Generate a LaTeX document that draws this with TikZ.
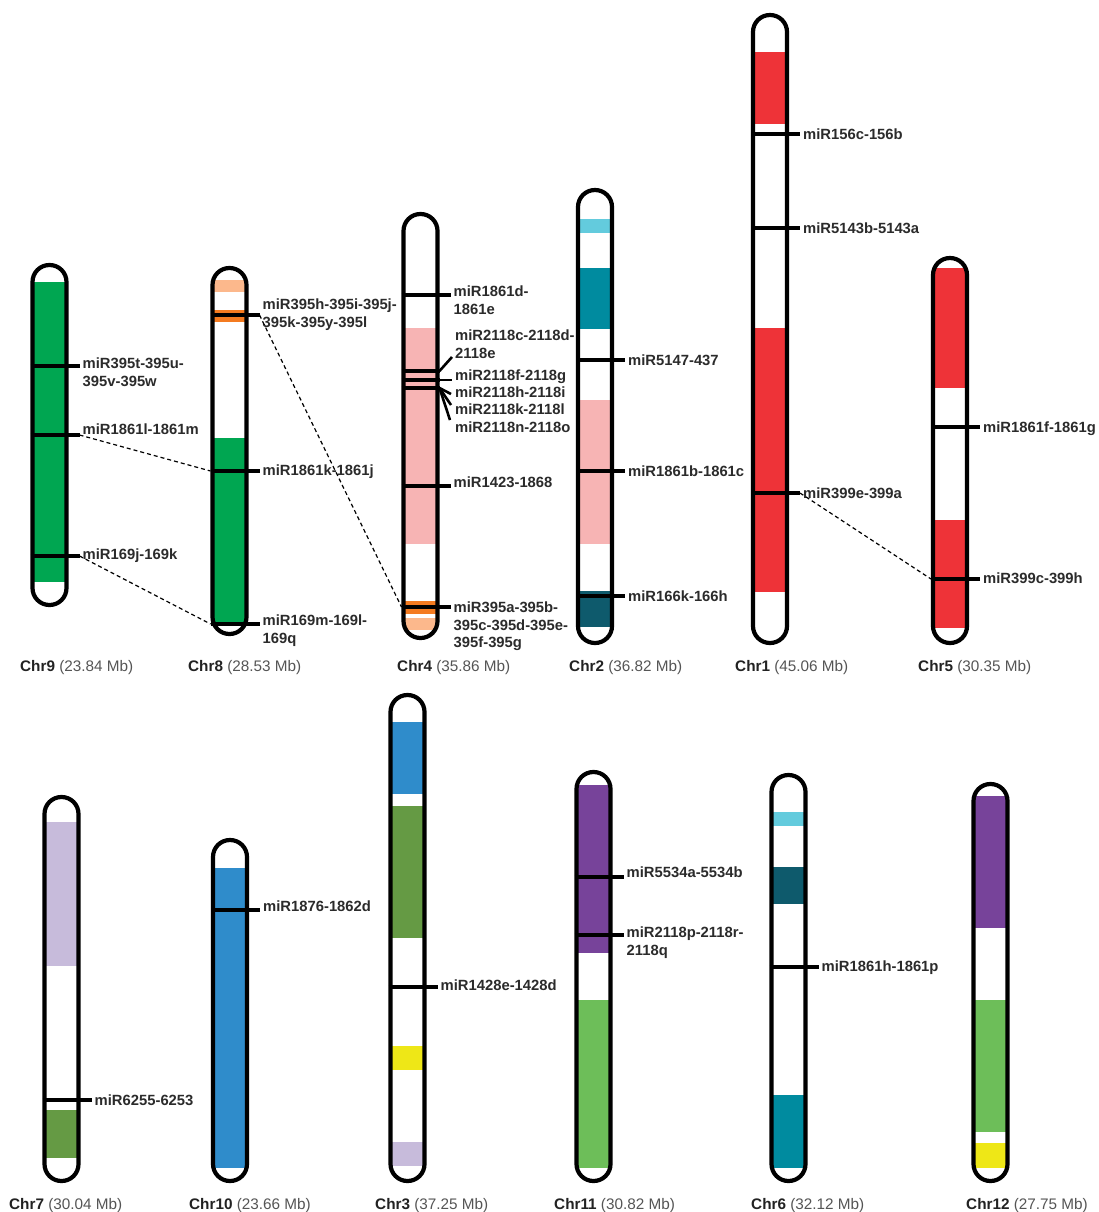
\documentclass[tikz,border=0pt]{standalone}
\usepackage{fontspec}
\setmainfont{Liberation Sans}
\definecolor{green9}{HTML}{00A651}
\definecolor{salmon}{HTML}{FCB88C}
\definecolor{orng}{HTML}{F47B20}
\definecolor{pinkb}{HTML}{F7B4B4}
\definecolor{lcyan}{HTML}{63CBDD}
\definecolor{teal}{HTML}{008B9F}
\definecolor{dteal}{HTML}{0E5A6C}
\definecolor{redb}{HTML}{EE3338}
\definecolor{lav}{HTML}{C7BBDB}
\definecolor{olive}{HTML}{659A44}
\definecolor{blueb}{HTML}{2F8CCB}
\definecolor{yell}{HTML}{EEE717}
\definecolor{purp}{HTML}{77439A}
\definecolor{lgreen}{HTML}{6DBE59}
\definecolor{labcol}{HTML}{2B2B2B}
\definecolor{namecol}{HTML}{222222}
\definecolor{sizecol}{HTML}{555555}
\tikzset{
 chrline/.style={line width=4.2pt, draw=black},
 tk/.style={line width=3.2pt, draw=black},
 lead/.style={line width=2.6pt, draw=black},
 lbl/.style={anchor=north west, inner sep=0pt, align=left, text=labcol, font=\bfseries\fontsize{14.8}{17.4}\selectfont},
 clbl/.style={anchor=base west, inner sep=0pt, text=sizecol, font=\fontsize{15.3}{18}\selectfont},
 link/.style={line width=1.2pt, draw=black, dash pattern=on 4pt off 3pt},
}
\newcommand\chromo[4]{%
 \begin{scope}
 \clip[rounded corners=16.9pt] ({#1-17},#2) rectangle ({#1+17},#3);
 \foreach \a/\b/\c in {#4} {\fill[\c] ({#1-18},\a) rectangle ({#1+18},\b);}
 \end{scope}
 \draw[chrline, rounded corners=16.9pt] ({#1-17},#2) rectangle ({#1+17},#3);
}
\newcommand\mtick[5]{%
 \coordinate (#3L) at ({#1-19},#2);
 \coordinate (#3R) at ({#1+30},#2);
 \draw[tk] (#3L) -- (#3R);
 \node[lbl] (#3) at ({#1+33},{#4-5.3}) {#5};
}
\begin{document}
\begin{tikzpicture}[x=1pt,y=-1pt]
\useasboundingbox[fill=white] (0,0) rectangle (1099,1212);

% ---- top row ----
% Chr9
\chromo{49.5}{265}{605}{282/582/green9}
\mtick{49.5}{366}{t9a}{363}{miR395t-395u-\\395v-395w}
\mtick{49.5}{435}{t9b}{429}{miR1861l-1861m}
\mtick{49.5}{556}{t9c}{554}{miR169j-169k}
\node[clbl] (n9) at (20,671.5) {\textcolor{namecol}{\bfseries Chr9} (23.84 Mb)};

% Chr8
\chromo{229.5}{268}{634}{280/292/salmon,310/322/orng,438/623/green9}
\mtick{229.5}{315}{t8a}{304}{miR395h-395i-395j-\\395k-395y-395l}
\mtick{229.5}{471}{t8b}{470}{miR1861k-1861j}
\mtick{229.5}{624}{t8c}{620}{miR169m-169l-\\169q}
\node[clbl] (n8) at (188,671.5) {\textcolor{namecol}{\bfseries Chr8} (28.53 Mb)};

% Chr4
\chromo{420.5}{214}{638}{328/544/pinkb,601/614/orng,618/630/salmon}
\mtick{420.5}{295}{t4a}{291}{miR1861d-\\1861e}
\mtick{420.5}{486}{t4c}{482}{miR1423-1868}
\mtick{420.5}{607}{t4d}{607}{miR395a-395b-\\395c-395d-395e-\\395f-395g}
\coordinate (faL) at (401.5,371); \coordinate (faR) at (439.5,371);
\coordinate (fbL) at (401.5,380); \coordinate (fbR) at (439.5,380);
\coordinate (fcL) at (401.5,388); \coordinate (fcR) at (439.5,388);
\draw[tk] (faL) -- (faR);
\draw[tk] (fbL) -- (fbR);
\draw[tk] (fcL) -- (fcR);
\node[lbl] (l4b) at (455,{335-5.3}) {miR2118c-2118d-\\2118e};
\node[lbl] (l4f) at (455,{375-5.3}) {miR2118f-2118g};
\node[lbl] (l4h) at (455,{392-5.3}) {miR2118h-2118i};
\node[lbl] (l4k) at (455,{409-5.3}) {miR2118k-2118l};
\node[lbl] (l4n) at (455,{427-5.3}) {miR2118n-2118o};
\coordinate (e1) at (452,357);
\coordinate (e2) at (452,380);
\coordinate (e3) at (451,394);
\coordinate (e4) at (451,405);
\coordinate (e5) at (450,420);
\draw[lead] (faR) -- (e1);
\draw[lead] (fbR) -- (e2);
\draw[lead] (fcR) -- (e3);
\draw[lead] (fcR) -- (e4);
\draw[lead] (fcR) -- (e5);
\node[clbl] (n4) at (397,671.5) {\textcolor{namecol}{\bfseries Chr4} (35.86 Mb)};

% Chr2
\chromo{595}{190}{643}{219/233/lcyan,268/329/teal,400/544/pinkb,591/627/dteal}
\mtick{595}{360}{t2a}{360}{miR5147-437}
\mtick{595}{471}{t2b}{471}{miR1861b-1861c}
\mtick{595}{596}{t2c}{596}{miR166k-166h}
\node[clbl] (n2) at (569,671.5) {\textcolor{namecol}{\bfseries Chr2} (36.82 Mb)};

% Chr1
\chromo{770}{15}{643}{52/124/redb,328/592/redb}
\mtick{770}{134}{t1a}{134}{miR156c-156b}
\mtick{770}{228}{t1b}{228}{miR5143b-5143a}
\mtick{770}{493}{t1c}{493}{miR399e-399a}
\node[clbl] (n1) at (735,671.5) {\textcolor{namecol}{\bfseries Chr1} (45.06 Mb)};

% Chr5
\chromo{950}{258}{643}{268/388/redb,520/628/redb}
\mtick{950}{427}{t5a}{427}{miR1861f-1861g}
\mtick{950}{579}{t5b}{578}{miR399c-399h}
\node[clbl] (n5) at (918,671.5) {\textcolor{namecol}{\bfseries Chr5} (30.35 Mb)};

% links
\draw[link] (t9bR) -- (t8bL);
\draw[link] (t9cR) -- (t8cL);
\draw[link] (t8aR) -- (t4dL);
\draw[link] (t1cR) -- (t5bL);

% ---- bottom row ----
% Chr7
\chromo{61.5}{797}{1181}{822/966/lav,1110/1158/olive}
\mtick{61.5}{1100}{t7a}{1100}{miR6255-6253}
\node[clbl] (n7) at (9,1209.5) {\textcolor{namecol}{\bfseries Chr7} (30.04 Mb)};

% Chr10
\chromo{230}{840}{1181}{868/1168/blueb}
\mtick{230}{910}{t10a}{906}{miR1876-1862d}
\node[clbl] (n10) at (189,1209.5) {\textcolor{namecol}{\bfseries Chr10} (23.66 Mb)};

% Chr3
\chromo{407.5}{695}{1181}{722/794/blueb,806/938/olive,1046/1070/yell,1142/1166/lav}
\mtick{407.5}{987}{t3a}{985}{miR1428e-1428d}
\node[clbl] (n3) at (375,1209.5) {\textcolor{namecol}{\bfseries Chr3} (37.25 Mb)};

% Chr11
\chromo{593.5}{772}{1181}{785/953/purp,1000/1168/lgreen}
\mtick{593.5}{877}{t11a}{872}{miR5534a-5534b}
\mtick{593.5}{935}{t11b}{932}{miR2118p-2118r-\\2118q}
\node[clbl] (n11) at (554,1209.5) {\textcolor{namecol}{\bfseries Chr11} (30.82 Mb)};

% Chr6
\chromo{788.5}{775}{1181}{812/826/lcyan,867/904/dteal,1095/1168/teal}
\mtick{788.5}{967}{t6a}{966}{miR1861h-1861p}
\node[clbl] (n6) at (751,1209.5) {\textcolor{namecol}{\bfseries Chr6} (32.12 Mb)};

% Chr12
\chromo{990.5}{784}{1181}{796/928/purp,1000/1132/lgreen,1143/1168/yell}
\node[clbl] (n12) at (966,1209.5) {\textcolor{namecol}{\bfseries Chr12} (27.75 Mb)};
\end{tikzpicture}
\end{document}
